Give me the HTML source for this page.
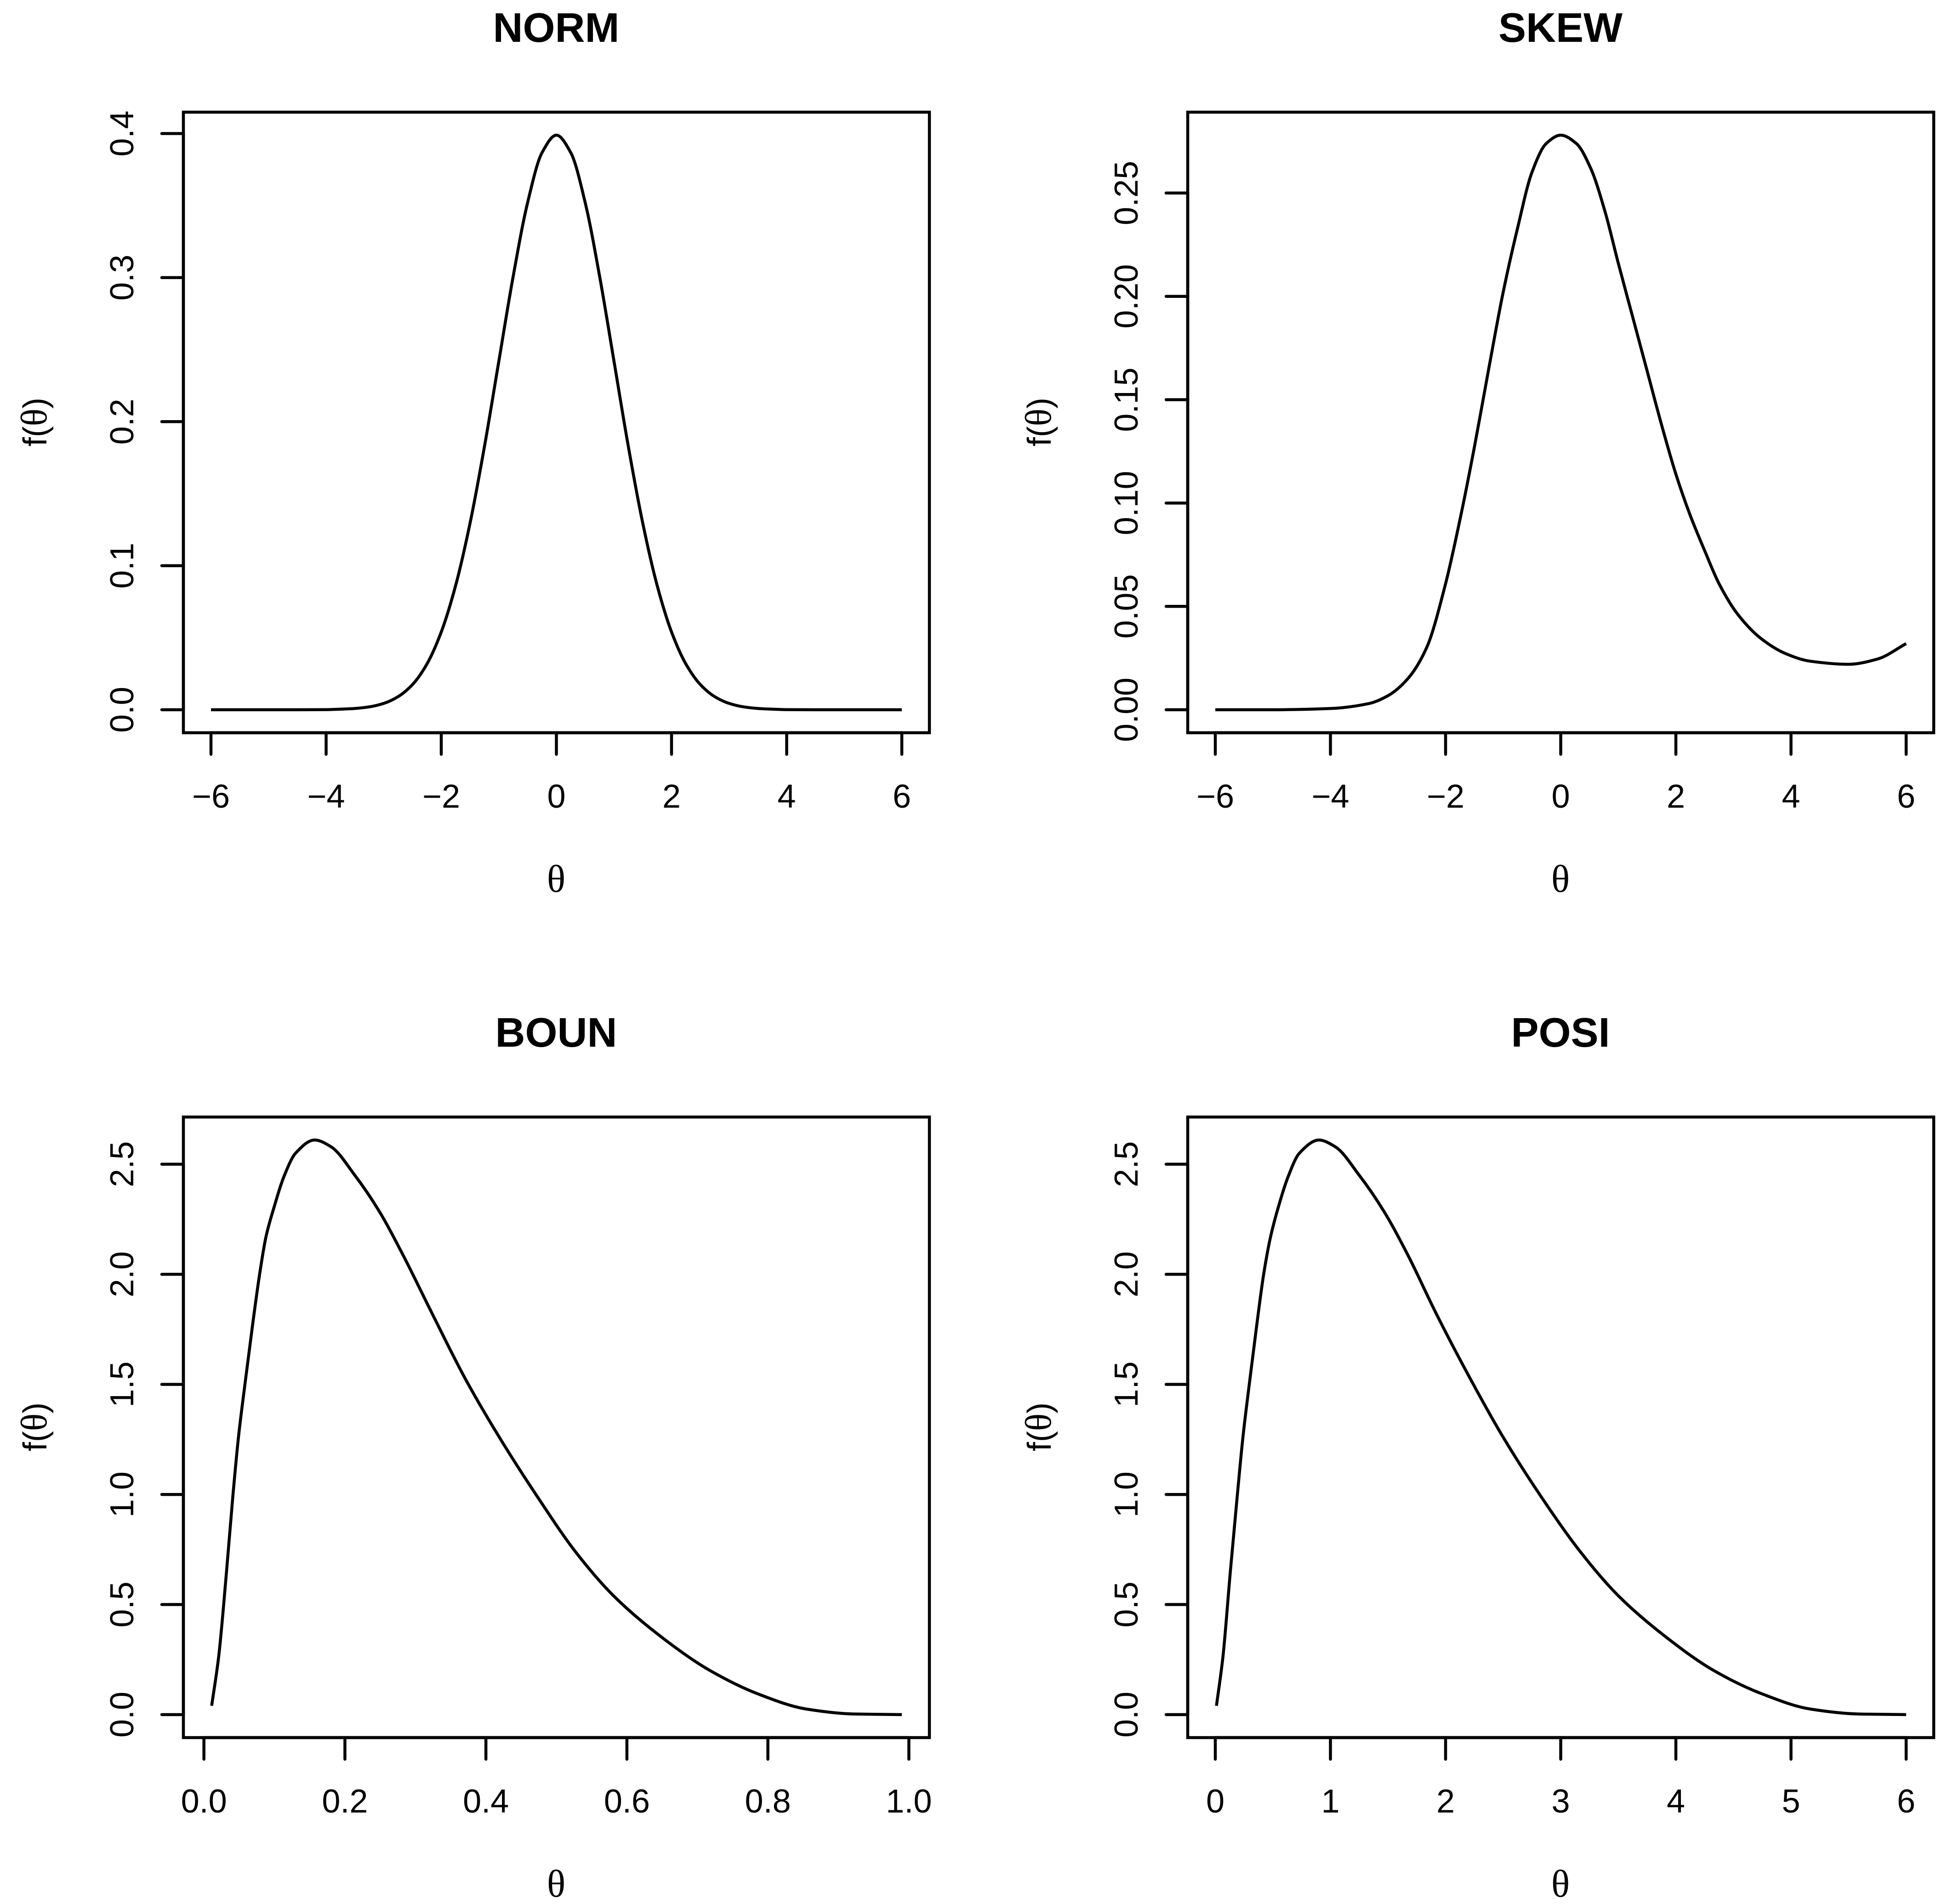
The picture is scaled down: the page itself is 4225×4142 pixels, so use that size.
<!DOCTYPE html>
<html><head><meta charset="utf-8"><style>html,body{margin:0;padding:0;background:#fff}svg{display:block}</style></head>
<body>
<svg id="fig" xmlns="http://www.w3.org/2000/svg" width="4225" height="4142" viewBox="0 0 4225 4142"></svg>
<script>
const normX=[-6,-5.5,-5,-4.5,-4,-3.75,-3.5,-3.25,-3,-2.75,-2.5,-2.25,-2,-1.75,-1.5,-1.25,-1,-0.75,-0.5,-0.25,0,0.25,0.5,0.75,1,1.25,1.5,1.75,2,2.25,2.5,2.75,3,3.25,3.5,3.75,4,4.5,5,5.5,6];
const normY=[0,0,0,0,0.0001,0.0004,0.0009,0.002,0.0044,0.0091,0.0175,0.0317,0.054,0.0863,0.1295,0.1826,0.242,0.3011,0.3521,0.3867,0.3989,0.3867,0.3521,0.3011,0.242,0.1826,0.1295,0.0863,0.054,0.0317,0.0175,0.0091,0.0044,0.002,0.0009,0.0004,0.0001,0,0,0,0];
const skewX=[-6,-5,-4,-3.33,-3,-2.66,-2.33,-2,-1.75,-1.5,-1.25,-1,-0.75,-0.5,-0.25,0,0.27,0.52,0.77,1,1.25,1.5,1.75,2,2.25,2.5,2.75,3.08,3.5,3.92,4.33,5,5.5,6];
const skewY=[0,0,0.0006,0.003,0.0068,0.0149,0.030,0.061,0.092,0.127,0.165,0.202,0.233,0.260,0.274,0.278,0.274,0.262,0.241,0.216,0.190,0.164,0.138,0.114,0.094,0.077,0.061,0.046,0.034,0.027,0.0235,0.022,0.0245,0.032];
const posiX=[0.01,0.067,0.13,0.19,0.24,0.30,0.36,0.42,0.48,0.55,0.63,0.73,0.90,1.04,1.25,1.46,1.67,1.92,2.21,2.50,2.83,3.17,3.50,3.92,4.33,4.75,5.17,5.58,6.0];
const posiY=[0.04,0.266,0.647,0.99,1.26,1.52,1.77,2.0,2.17,2.31,2.44,2.55,2.61,2.58,2.45,2.29,2.09,1.82,1.53,1.26,0.99,0.74,0.54,0.35,0.20,0.094,0.025,0.003,0.0];
const bounX=[0.011,0.021,0.032,0.041,0.049,0.059,0.069,0.079,0.088,0.10,0.113,0.13,0.157,0.18,0.214,0.248,0.282,0.324,0.37,0.419,0.473,0.527,0.581,0.65,0.718,0.786,0.855,0.921,0.99];
const bounY=[0.04,0.266,0.647,0.99,1.26,1.52,1.77,2.0,2.17,2.31,2.44,2.55,2.61,2.58,2.45,2.29,2.09,1.82,1.53,1.26,0.99,0.74,0.54,0.35,0.20,0.094,0.025,0.003,0.0];
const normXTicks=[-6,-4,-2,0,2,4,6], normYTicks=[0,0.1,0.2,0.3,0.4], normYLabels=["0.0","0.1","0.2","0.3","0.4"];
const skewXTicks=[-6,-4,-2,0,2,4,6], skewYTicks=[0,0.05,0.1,0.15,0.2,0.25], skewYLabels=["0.00","0.05","0.10","0.15","0.20","0.25"];
const bounXTicks=[0,0.2,0.4,0.6,0.8,1.0], bounXLabels=["0.0","0.2","0.4","0.6","0.8","1.0"];
const posiXTicks=[0,1,2,3,4,5,6];
const denYTicks=[0,0.5,1,1.5,2,2.5], denYLabels=["0.0","0.5","1.0","1.5","2.0","2.5"];

const NS="http://www.w3.org/2000/svg";
const svg=document.getElementById('fig');
const LW=6.5;
function mk(tag,attrs,parent){const e=document.createElementNS(NS,tag);for(const k in attrs)e.setAttribute(k,attrs[k]);parent.appendChild(e);return e;}
function smoothPath(pts){
  const n=pts.length, d=[], m=new Array(n);
  for(let i=0;i<n-1;i++) d.push((pts[i+1][1]-pts[i][1])/(pts[i+1][0]-pts[i][0]));
  m[0]=d[0]; m[n-1]=d[n-2];
  for(let i=1;i<n-1;i++){
    if(d[i-1]*d[i]<=0) m[i]=0;
    else {const h0=pts[i][0]-pts[i-1][0],h1=pts[i+1][0]-pts[i][0];
      const w1=2*h1+h0,w2=h1+2*h0; m[i]=(w1+w2)/(w1/d[i-1]+w2/d[i]);}
  }
  let s="M"+pts[0][0].toFixed(1)+","+pts[0][1].toFixed(1);
  for(let i=0;i<n-1;i++){
    const h=(pts[i+1][0]-pts[i][0])/3;
    s+=" C"+(pts[i][0]+h).toFixed(1)+","+(pts[i][1]+m[i]*h).toFixed(1)+" "+(pts[i+1][0]-h).toFixed(1)+","+(pts[i+1][1]-m[i+1]*h).toFixed(1)+" "+pts[i+1][0].toFixed(1)+","+pts[i+1][1].toFixed(1);
  }
  return s;
}
function panel(name,title,ox,oy,xs,ys,xmin,xmax,ymax,xt,xl,yt,yl){
  const g=mk('g',{transform:`translate(${ox},${oy})`},svg);
  
  
  const X=v=>459+(v-xmin)/(xmax-xmin)*(1962-459);
  const Y=v=>1544-v/ymax*1250;
  const t=mk('text',{x:1210,y:91,'text-anchor':'middle','font-family':'Liberation Sans, sans-serif','font-weight':'bold','font-size':90},g);
  t.textContent=title;
  
  
  const box=mk('rect',{x:399,y:244,width:1623,height:1350,fill:'none',stroke:'#000','stroke-width':LW},g);
  
  
  const xa=mk('g',{},g);
  
  
  mk('line',{x1:X(xt[0]),x2:X(xt[xt.length-1]),y1:1594,y2:1594,stroke:'#000','stroke-width':LW,'stroke-linecap':'round'},xa);
  xt.forEach((v,i)=>{
    mk('line',{x1:X(v),x2:X(v),y1:1594,y2:1641,stroke:'#000','stroke-width':LW,'stroke-linecap':'round'},xa);
    const tx=mk('text',{x:X(v),y:1757,'text-anchor':'middle','font-family':'Liberation Sans, sans-serif','font-size':72},xa);
    tx.textContent=xl?xl[i]:String(v).replace('-','\u2212');
    
    
  });
  const ya=mk('g',{},g);
  
  
  mk('line',{x1:399,x2:399,y1:Y(yt[0]),y2:Y(yt[yt.length-1]),stroke:'#000','stroke-width':LW,'stroke-linecap':'round'},ya);
  yt.forEach((v,i)=>{
    mk('line',{x1:352,x2:399,y1:Y(v),y2:Y(v),stroke:'#000','stroke-width':LW,'stroke-linecap':'round'},ya);
    const ty=mk('text',{x:0,y:0,transform:`translate(290,${Y(v)}) rotate(-90)`,'text-anchor':'middle','font-family':'Liberation Sans, sans-serif','font-size':72},ya);
    ty.textContent=yl[i];
    
    
  });
  const xt2=mk('text',{x:1210,y:1940,'text-anchor':'middle','font-family':'Liberation Serif, serif','font-size':84},g);
  xt2.textContent='θ';
  
  
  const yt2=mk('text',{x:0,y:0,transform:'translate(101,918) rotate(-90)','text-anchor':'middle','font-family':'Liberation Sans, sans-serif','font-size':72},g);
  yt2.innerHTML='f(<tspan font-family="Liberation Serif, serif" font-size="80">θ</tspan>)';
  
  
  const pts=xs.map((x,i)=>[X(x),Y(ys[i])]);
  const p=mk('path',{d:smoothPath(pts),fill:'none',stroke:'#000','stroke-width':LW,'stroke-linejoin':'round'},g);
  
  
}
panel('norm','NORM',0,0,normX,normY,-6,6,0.3989,normXTicks,null,normYTicks,normYLabels);
panel('skew','SKEW',2185,0,skewX,skewY,-6,6,0.278,skewXTicks,null,skewYTicks,skewYLabels);
panel('boun','BOUN',0,2186,bounX,bounY,0.01,0.99,2.61,bounXTicks,bounXLabels,denYTicks,denYLabels);
panel('posi','POSI',2185,2186,posiX,posiY,0,6,2.61,posiXTicks,null,denYTicks,denYLabels);
</script>
</body></html>
